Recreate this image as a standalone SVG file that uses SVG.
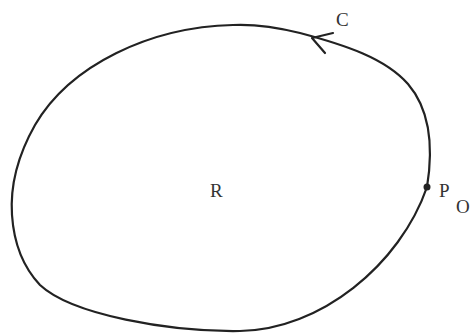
<svg xmlns="http://www.w3.org/2000/svg" width="472" height="333" viewBox="0 0 472 333">
<style>
.ln{fill:none;stroke:#222;stroke-width:2.2;stroke-linecap:round;stroke-linejoin:round}
.t{font-family:"Liberation Serif","DejaVu Serif",serif;fill:#333;font-size:19px}
</style>
<rect width="472" height="333" fill="#fff"/>
<path class="ln" d="M427,187 C433,150 432,112 408,84 C385,58 345,45 300,33 C280,28 255,24 233,25 C150,27 70,65 35,125 C18,155 10,185 12,215 C14,245 24,268 40,285 C72,315 170,332 240,331 C320,330 400,265 427,187 Z"/>
<path class="ln" d="M333,33 L312,38 L325,53" stroke-width="2.6"/>
<circle cx="427" cy="187" r="3.5" fill="#222"/>
<text class="t" x="336" y="26">C</text>
<text class="t" x="210" y="197">R</text>
<text class="t" x="439" y="197">P</text>
<text class="t" x="456" y="213" font-size="17">O</text>
</svg>
